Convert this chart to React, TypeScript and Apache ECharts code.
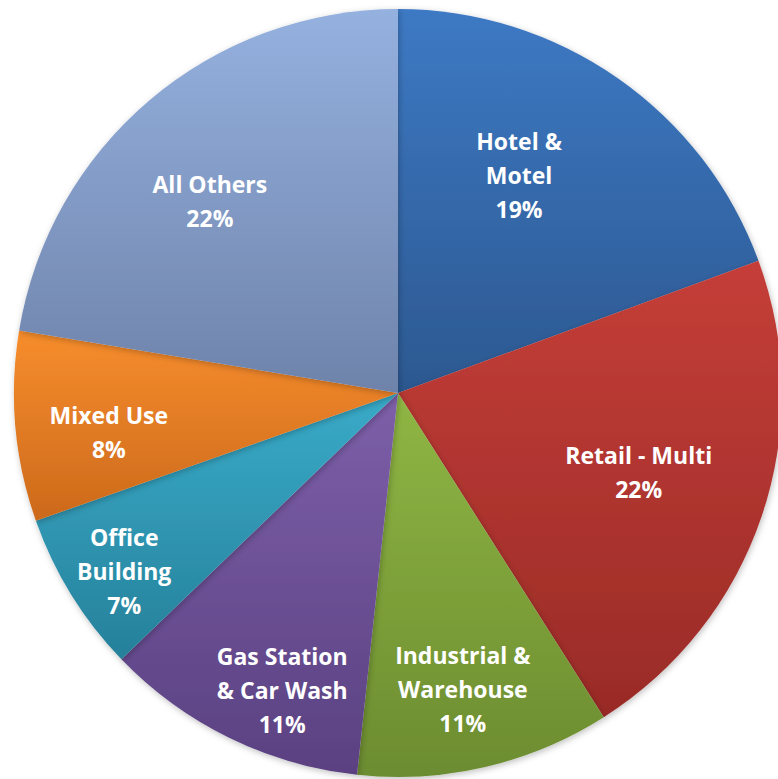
import React, { useEffect, useRef } from "react";
import * as echarts from "echarts";

const categories = [
  "Hotel &\nMotel",
  "Retail - Multi",
  "Industrial &\nWarehouse",
  "Gas Station\n& Car Wash",
  "Office\nBuilding",
  "Mixed Use",
  "All Others",
];
// estimated shares (labels show rounded percentages)
const shares = [19.4, 21.6, 10.7, 11.1, 6.8, 8.0, 22.4];

const topColors = ["#3d79c4", "#c53e38", "#8fb644", "#7d5fa9", "#39abc9", "#f78d2d", "#95b1df"];
const bottomColors = ["#2c5890", "#992b27", "#6c8c30", "#5a4181", "#26809a", "#cc691b", "#6e83aa"];

// label placement (fraction of radius, angular nudge in degrees)
const labelRadiusFrac = [0.65, 0.66, 0.79, 0.83, 0.85, 0.76, 0.7];
const labelAngleNudge = [5.9, 0.5, -0.8, 4.8, 1.3, 2.7, 4.1];

const CX = 398;
const CY = 393;
const R = 384;

export default function App() {
  const ref = useRef<HTMLDivElement>(null);
  useEffect(() => {
    document.body.style.margin = "0";
    const chart = echarts.init(ref.current!, null, { renderer: "svg" });
    const total = shares.reduce((a, b) => a + b, 0);
    const data = categories.map((name, i) => ({
      name,
      value: shares[i],
      itemStyle: {
        color: new echarts.graphic.LinearGradient(0, 0, 0, 1, [
          { offset: 0, color: topColors[i] },
          { offset: 1, color: bottomColors[i] },
        ]),
      },
    }));
    chart.setOption({
      animation: false,
      backgroundColor: "#ffffff",
      series: [
        {
          type: "pie",
          center: [CX, CY],
          radius: [0, R],
          startAngle: 90,
          clockwise: true,
          data,
          itemStyle: {
            borderWidth: 0,
            shadowBlur: 6,
            shadowColor: "rgba(0,0,0,0.25)",
            shadowOffsetX: 1,
            shadowOffsetY: 2,
          },
          emphasis: { disabled: true },
          label: {
            show: true,
            position: "inside",
            formatter: (p: any) => `${p.name}\n${Math.round(p.value)}%`,
            color: "#ffffff",
            fontFamily: "'Open Sans', sans-serif",
            fontWeight: "bold",
            fontSize: 23,
            lineHeight: 34,
            align: "center",
          },
          labelLine: { show: false },
          labelLayout: (p: any) => {
            const i = p.dataIndex;
            let before = 0;
            for (let k = 0; k < i; k++) before += shares[k];
            const midFrac = (before + shares[i] / 2) / total;
            const angDeg = 90 - midFrac * 360 + labelAngleNudge[i];
            const a = (angDeg * Math.PI) / 180;
            const r = R * labelRadiusFrac[i];
            return {
              x: CX + r * Math.cos(a),
              y: CY - r * Math.sin(a),
              align: "center",
              verticalAlign: "middle",
            };
          },
        },
      ],
    });
    return () => chart.dispose();
  }, []);
  return (
    <div
      ref={ref}
      style={{ position: "absolute", left: 0, top: 0, width: 778, height: 779 }}
    />
  );
}
